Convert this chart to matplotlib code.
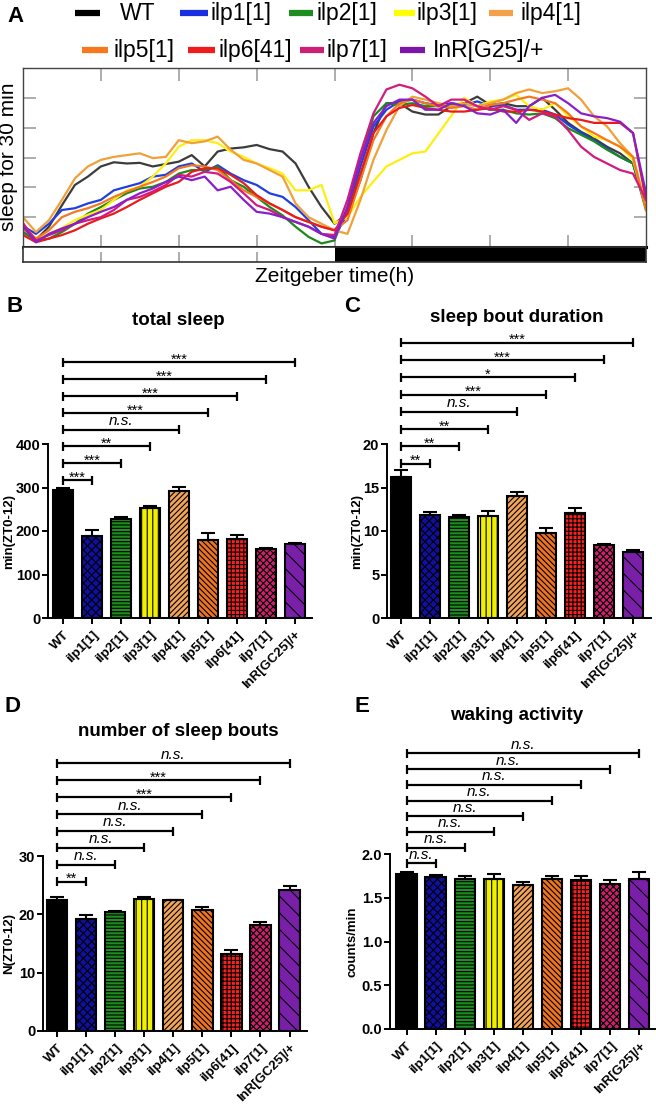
import numpy as np
import matplotlib
matplotlib.use('Agg')
import matplotlib.pyplot as plt
import matplotlib.transforms as mtransforms
from matplotlib.lines import Line2D

plt.rcParams['font.family'] = ['Liberation Sans', 'DejaVu Sans']
plt.rcParams['hatch.linewidth'] = 0.8

# ---------------- data ----------------
hours = np.arange(0, 24.5, 0.5)

wt_sleep = [2.5, 1.2, 3.4, 7.0, 10.4, 11.8, 13.5, 14.2, 14.0, 14.1, 13.5, 13.9, 14.3, 15.4, 13.5, 16.0, 16.5, 16.7, 17.1, 16.4, 16.0, 14.0, 10.1, 6.7, 3.9,
            5.6, 11.2, 19.1, 24.1, 24.1, 22.7, 22.2, 22.2, 23.6, 24.1, 25.2, 23.8, 24.1, 23.6, 23.6, 25.0, 23.0, 20.8, 19.3, 18.2, 16.8, 15.7, 14.0, 6.7]
ilp1_sleep = [3.5, 2.2, 3.9, 6.2, 6.5, 7.3, 7.9, 9.5, 10.1, 10.7, 11.8, 12.1, 13.5, 14.0, 12.6, 13.7, 12.3, 11.2, 10.4, 9.0, 8.4, 6.7, 4.5, 2.2, 1.7,
              5.6, 13.5, 20.2, 23.0, 24.4, 24.7, 24.1, 23.8, 24.1, 23.8, 24.4, 23.6, 23.8, 23.0, 23.0, 23.0, 22.2, 20.5, 19.1, 17.9, 16.5, 15.1, 14.0, 6.7]
ilp2_sleep = [2.5, 1.1, 1.4, 2.5, 3.9, 5.6, 6.7, 7.9, 9.0, 9.8, 10.1, 10.9, 12.3, 12.9, 12.9, 13.5, 11.2, 10.1, 8.4, 6.7, 5.3, 3.4, 1.7, 0.6, 1.1,
              6.7, 14.6, 21.9, 24.1, 23.8, 24.1, 23.6, 23.6, 23.8, 24.1, 23.6, 23.0, 23.0, 22.4, 22.2, 22.4, 21.6, 19.9, 18.8, 17.7, 16.3, 15.1, 14.0, 6.2]
ilp3_sleep = [3.5, 1.5, 2.2, 3.2, 4.5, 5.4, 6.2, 7.9, 9.5, 10.1, 11.8, 14.0, 16.8, 17.9, 17.9, 17.4, 16.0, 15.1, 14.0, 13.2, 12.3, 9.5, 9.5, 10.4, 4.0,
              5.0, 8.4, 11.0, 13.5, 14.6, 15.7, 16.0, 19.0, 22.0, 25.0, 23.6, 24.4, 24.7, 25.5, 23.6, 23.0, 24.1, 21.9, 20.2, 18.5, 17.9, 16.8, 14.6, 6.7]
ilp4_sleep = [5.0, 2.5, 4.5, 7.9, 11.5, 13.5, 14.6, 15.1, 15.4, 15.7, 14.9, 15.1, 17.9, 17.4, 17.7, 18.5, 16.3, 14.6, 14.0, 12.9, 11.8, 7.3, 5.0, 3.9, 2.8,
              2.2, 7.9, 14.6, 19.6, 23.6, 25.2, 24.7, 24.1, 23.6, 24.1, 23.6, 24.1, 24.7, 25.8, 26.4, 25.8, 26.1, 26.6, 24.7, 21.9, 20.2, 17.4, 15.1, 6.7]
ilp5_sleep = [3.0, 1.4, 2.8, 5.0, 5.9, 6.5, 7.3, 8.4, 9.3, 10.1, 10.9, 11.8, 13.2, 13.7, 13.5, 12.9, 11.2, 9.5, 8.4, 7.3, 6.2, 5.0, 4.2, 3.4, 2.8,
              4.5, 11.2, 17.9, 21.9, 24.1, 24.7, 24.1, 23.6, 23.3, 23.6, 23.0, 23.8, 24.1, 24.7, 25.2, 24.7, 24.1, 22.4, 20.2, 19.1, 17.9, 16.8, 15.1, 6.2]
ilp6_sleep = [2.0, 0.8, 1.4, 2.0, 2.8, 3.9, 4.8, 5.6, 6.7, 7.9, 9.0, 10.1, 10.9, 12.6, 13.2, 13.2, 12.1, 10.7, 8.7, 7.3, 6.2, 5.0, 4.2, 3.4, 2.8,
              5.6, 12.3, 19.1, 21.9, 23.3, 23.8, 23.3, 23.0, 22.7, 22.7, 23.0, 23.3, 22.7, 22.7, 23.0, 22.7, 22.2, 21.6, 21.3, 20.8, 20.8, 20.8, 19.1, 7.9]
ilp7_sleep = [4.0, 1.1, 2.0, 2.8, 3.9, 4.5, 5.0, 6.2, 7.9, 8.4, 9.3, 10.4, 12.1, 11.8, 12.6, 12.3, 10.9, 9.0, 7.0, 6.2, 5.0, 4.2, 3.4, 2.2, 2.0,
              7.9, 15.7, 22.4, 26.4, 27.2, 26.6, 25.2, 23.6, 24.7, 24.7, 23.6, 23.0, 23.6, 23.0, 21.3, 22.4, 21.9, 19.6, 16.8, 15.1, 14.0, 12.9, 12.3, 7.9]
inr_sleep = [3.5, 0.8, 2.2, 3.1, 3.9, 5.0, 5.9, 6.7, 7.9, 9.0, 9.8, 10.9, 11.8, 11.2, 11.8, 9.5, 10.1, 7.9, 5.9, 5.6, 5.0, 4.2, 3.4, 2.2, 1.4,
             6.7, 14.6, 20.8, 23.6, 24.7, 24.7, 23.0, 23.0, 24.1, 23.6, 22.4, 22.2, 23.0, 20.8, 23.6, 25.0, 25.5, 24.1, 22.4, 21.9, 21.6, 21.0, 19.1, 9.0]

legend_names = ['WT', 'ilp1[1]', 'ilp2[1]', 'ilp3[1]', 'ilp4[1]', 'ilp5[1]', 'ilp6[41]', 'ilp7[1]', 'InR[G25]/+']
curve_colors = ['#3c3c3c', '#1f3fe0', '#1a8a1a', '#ffee10', '#f0a038', '#f57820', '#e81c1c', '#d21a80', '#8a1fc8']
legend_colors = ['#000000', '#1a2fe0', '#1e8c1e', '#ffff00', '#f5a04a', '#f7781e', '#ee1c1c', '#cc1f75', '#7b16a8']
light_dark = [(0, 12, 'white'), (12, 24, 'black')]

genotypes = ['WT', 'ilp1[1]', 'ilp2[1]', 'ilp3[1]', 'ilp4[1]', 'ilp5[1]', 'ilp6[41]', 'ilp7[1]', 'InR[GC25]/+']
genotypes_e = ['WT', 'ilp1[1]', 'ilp2[1]', 'ilp3[1]', 'ilp4[1]', 'ilp5[1]', 'ilp6[41]', 'ilp7[1]', 'InR[G25]/+']
bar_colors = ['#000000', '#10109e', '#1e8c1e', '#f0f000', '#f2a55a', '#ee7420', '#ff1e1e', '#d02070', '#7a1fa8']
bar_hatches = [None, 'xxxx', '-----', '|||', '//////', '\\\\\\\\\\\\', '++++', 'xxxxx', '\\\\']

total_sleep = [295, 189, 227, 254, 293, 179, 182, 158, 170]
total_sleep_sem = [5, 13, 5, 3, 9, 16, 8, 2, 2]
total_sleep_sig = ['***', '***', '**', 'n.s.', '***', '***', '***', '***']

bout_duration = [16.2, 11.8, 11.6, 11.7, 14.05, 9.8, 12.1, 8.4, 7.6]
bout_duration_sem = [0.8, 0.4, 0.2, 0.6, 0.45, 0.5, 0.6, 0.1, 0.2]
bout_duration_sig = ['**', '**', '**', 'n.s.', '***', '*', '***', '***']

bout_number = [22.5, 19.2, 20.4, 22.6, 22.4, 20.7, 13.2, 18.2, 24.2]
bout_number_sem = [0.5, 0.7, 0.2, 0.3, 0.1, 0.6, 0.7, 0.5, 0.7]
bout_number_sig = ['**', 'n.s.', 'n.s.', 'n.s.', 'n.s.', '***', '***', 'n.s.']

waking = [1.775, 1.737, 1.718, 1.71, 1.645, 1.714, 1.70, 1.657, 1.71]
waking_sem = [0.025, 0.025, 0.027, 0.06, 0.03, 0.036, 0.05, 0.043, 0.08]
waking_sig = ['n.s.'] * 8

# ---------------- figure ----------------
W, H = 656, 1105
fig = plt.figure(figsize=(W / 100, H / 100), dpi=100)
fig.patch.set_facecolor('white')


def rect(x0, y0, x1, y1):
    return [x0 / W, 1 - y1 / H, (x1 - x0) / W, (y1 - y0) / H]


def fx(x):
    return x / W


def fy(y):
    return 1 - y / H


# ---------------- panel A ----------------
axA = fig.add_axes(rect(23, 68, 646, 247))
series = [wt_sleep, ilp1_sleep, ilp2_sleep, ilp3_sleep, ilp4_sleep, ilp5_sleep, ilp6_sleep, ilp7_sleep, inr_sleep]
for vals, col in zip(series, curve_colors):
    axA.plot(hours, vals, color=col, lw=1.6, solid_joinstyle='round')
axA.set_xlim(0, 24)
axA.set_ylim(0, 30)
axA.set_xticks(np.arange(3, 24, 3))
axA.set_yticks(np.arange(5, 30, 5))
axA.tick_params(direction='in', length=9, width=1.2, color='#a0a0a0',
                top=True, bottom=True, left=True, right=True,
                labelbottom=False, labelleft=False)
for s in ['left', 'top', 'right']:
    axA.spines[s].set_color('#444444')
    axA.spines[s].set_linewidth(1.0)
axA.spines['bottom'].set_color('black')
axA.spines['bottom'].set_linewidth(2.2)

axLD = fig.add_axes(rect(23, 247, 646, 262))
for x0, x1, c in light_dark:
    axLD.axvspan(x0, x1, color=c, lw=0)
axLD.set_xlim(0, 24)
axLD.set_ylim(0, 1)
axLD.set_yticks([])
axLD.set_xticks(np.arange(3, 12, 3))
axLD.tick_params(axis='x', direction='in', length=7, width=1.2, color='#a0a0a0', labelbottom=False)
for s in axLD.spines.values():
    s.set_color('#333333')
    s.set_linewidth(1.2)

fig.text(fx(334.5), fy(277), 'Zeitgeber time(h)', fontsize=15, ha='center', va='center')
fig.text(fx(9), fy(157), 'sleep for 30 min', fontsize=15, ha='center', va='center', rotation=90)

# legend (manual layout, two rows)
legend_layout = [(75, 100, 120, 13), (180, 208, 210, 13), (289, 313, 316, 13), (394, 415, 417, 13), (489, 513, 520, 13),
                 (82, 108, 114, 50), (188, 215, 218, 50), (300, 324, 327, 50), (400, 425, 433, 50)]
for name, col, (lx0, lx1, tx, ly) in zip(legend_names, legend_colors, legend_layout):
    fig.add_artist(Line2D([fx(lx0), fx(lx1)], [fy(ly), fy(ly)], color=col, lw=4.5,
                          transform=fig.transFigure, solid_capstyle='butt'))
    fig.text(fx(tx), fy(ly + 7), name, fontsize=16.5, ha='left', va='baseline')

# panel letters
for lab, (px, py) in zip('ABCDE', [(15, 17), (15, 306), (352, 306), (13, 706), (362, 706)]):
    fig.text(fx(px), fy(py), lab, fontsize=16, fontweight='bold', ha='center', va='center')


# ---------------- bar panels ----------------
def bar_panel(box, xlim, ylim, yticks, ytick_labels, values, sem, labels, sig,
              title, title_xy, ylabel, ylabel_x, br_first, br_step):
    ax = fig.add_axes(rect(*box))
    x = np.arange(len(values))
    bars = ax.bar(x, values, width=0.7, color=bar_colors, edgecolor='black', linewidth=1.5, zorder=2)
    for b, h in zip(bars, bar_hatches):
        if h:
            b.set_hatch(h)
    ax.errorbar(x, values, yerr=[np.zeros(len(sem)), sem], fmt='none', ecolor='black',
                elinewidth=1.5, capsize=5, capthick=1.5, zorder=3)
    ax.set_xlim(*xlim)
    ax.set_ylim(*ylim)
    ax.set_yticks(yticks)
    ax.set_yticklabels(ytick_labels, fontsize=10.5, fontweight='bold')
    ax.set_xticks(x)
    ax.set_xticklabels(labels, rotation=45, ha='right', va='top', rotation_mode='anchor',
                       fontsize=9.5, fontweight='bold')
    ax.tick_params(axis='both', direction='out', length=4, width=1.4, color='black', pad=1.5)
    ax.tick_params(axis='x', pad=4)
    for s in ['top', 'right']:
        ax.spines[s].set_visible(False)
    for s in ['left', 'bottom']:
        ax.spines[s].set_linewidth(1.4)
    box_h = box[3] - box[1]
    fig.text(fx(ylabel_x), fy((box[1] + box[3]) / 2), ylabel, fontsize=9.5, fontweight='bold',
             rotation=90, ha='center', va='center')
    fig.text(fx(title_xy[0]), fy(title_xy[1]), title, fontsize=13.5, fontweight='bold',
             ha='center', va='center')
    trans = mtransforms.blended_transform_factory(ax.transData, ax.transAxes)
    tick = 4.5 / box_h
    for k, lab in enumerate(sig):
        yk = br_first + k * br_step
        xe = k + 1
        ax.plot([0, xe], [yk, yk], color='black', lw=1.6, transform=trans, clip_on=False,
                solid_capstyle='butt')
        for xx in (0, xe):
            ax.plot([xx, xx], [yk - tick, yk + tick], color='black', lw=1.6, transform=trans,
                    clip_on=False, solid_capstyle='butt')
        if lab == 'n.s.':
            ax.text(xe / 2, yk + 1.5 / box_h, lab, fontsize=11, style='italic', ha='center',
                    va='bottom', transform=trans)
        else:
            ax.text(xe / 2, yk - 1.5 / box_h, lab, fontsize=10.5, ha='center', va='baseline',
                    transform=trans)
    return ax


bar_panel((48, 444, 312, 618), (-0.52, 8.6), (0, 400), [0, 100, 200, 300, 400],
          ['0', '100', '200', '300', '400'], total_sleep, total_sleep_sem, genotypes,
          total_sleep_sig, 'total sleep', (178, 320), 'min(ZT0-12)', 9,
          1 + (444 - 480) / 174, 16.8 / 174)

bar_panel((387, 444, 651, 618), (-0.48, 8.62), (0, 20), [0, 5, 10, 15, 20],
          ['0', '5', '10', '15', '20'], bout_duration, bout_duration_sem, genotypes,
          bout_duration_sig, 'sleep bout duration', (517, 317), 'min(ZT0-12)', 357,
          1 + (444 - 463.7) / 174, 17.3 / 174)

bar_panel((43, 856, 307, 1031), (-0.48, 8.6), (0, 30), [0, 10, 20, 30],
          ['0', '10', '20', '30'], bout_number, bout_number_sem, genotypes,
          bout_number_sig, 'number of sleep bouts', (178, 731), 'N(ZT0-12)', 9,
          1 + (856 - 881.7) / 175, 16.9 / 175)

bar_panel((390, 854, 655, 1029), (-0.57, 8.54), (0, 2.0), [0.0, 0.5, 1.0, 1.5, 2.0],
          ['0.0', '0.5', '1.0', '1.5', '2.0'], waking, waking_sem, genotypes_e,
          waking_sig, 'waking activity', (517, 716), 'counts/min', 353,
          1 + (854 - 863.3) / 175, 15.7 / 175)

fig.savefig('out.png', dpi=100, facecolor='white')
